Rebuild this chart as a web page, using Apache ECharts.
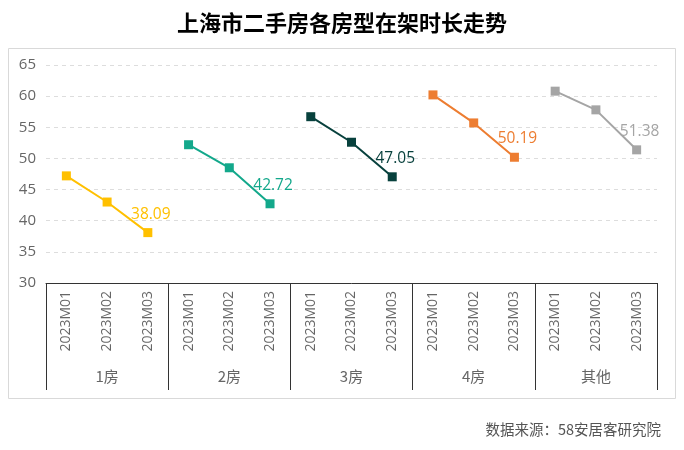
<!DOCTYPE html>
<html><head><meta charset="utf-8">
<script src="https://cdn.jsdelivr.net/npm/echarts@6/dist/echarts.min.js"></script>
<style>html,body{margin:0;padding:0;background:#fff}#c{width:684px;height:450px}</style>
</head><body><div id="c"></div>
<script>
const groups = ['1房','2房','3房','4房','其他'];
const months = ['2023M01','2023M02','2023M03'];
const v1 = [47.2, 43.0, 38.09];
const v2 = [52.2, 48.5, 42.72];
const v3 = [56.7, 52.6, 47.05];
const v4 = [60.2, 55.7, 50.19];
const v5 = [60.8, 57.8, 51.38];
const colors = ['#FFC000','#13A88B','#08413D','#ED7D31','#A5A5A5'];
const yTicks = {min:30, max:65, interval:5};

const cats = [];
groups.forEach(g => months.forEach(m => cats.push(g + '|' + m)));
const allVals = [v1, v2, v3, v4, v5];
const series = allVals.map((vals, gi) => {
  const data = cats.map(() => null);
  vals.forEach((v, i) => { data[gi * 3 + i] = v; });
  return {
    type: 'line', name: groups[gi], data: data,
    symbol: 'rect', symbolSize: 9,
    lineStyle: {color: colors[gi], width: 2},
    itemStyle: {color: colors[gi]},
    label: {
      show: true, position: 'top', distance: 6, offset: [3, 0], color: colors[gi], fontSize: 15.5,
      fontFamily: 'Open Sans',
      formatter: p => (p.dataIndex === gi * 3 + 2 ? p.value.toFixed(2) : '')
    },
    connectNulls: false, silent: true, animation: false
  };
});

const chart = echarts.init(document.getElementById('c'));
chart.setOption({
  animation: false,
  title: [{
    text: '上海市二手房各房型在架时长走势', left: 'center', top: 7,
    textStyle: {fontSize: 22, fontWeight: 'bold', color: '#000', fontFamily: 'Noto Sans CJK SC'}
  }, {
    text: '数据来源：58安居客研究院', right: 18, top: 417,
    textStyle: {fontSize: 14.5, fontWeight: 'normal', color: '#555', fontFamily: 'Noto Sans CJK SC'}
  }],
  graphic: [{
    type: 'rect', shape: {x: 8.5, y: 48.5, width: 667, height: 350},
    style: {fill: 'none', stroke: '#d9d9d9', lineWidth: 1}, silent: true, z: -1
  }],
  grid: {left: 46, right: 27, top: 65, bottom: 167},
  xAxis: [{
    type: 'category', data: cats, position: 'bottom',
    axisLine: {show: true, lineStyle: {color: '#333', width: 1}},
    axisTick: {show: false},
    axisLabel: {
      rotate: 90, margin: 8, color: '#666', fontSize: 14, fontFamily: 'Open Sans',
      formatter: v => v.split('|')[1]
    },
    splitLine: {show: false}
  }, {
    type: 'category', data: groups, position: 'bottom',
    axisLine: {show: false},
    axisTick: {show: true, length: 107, inside: false, lineStyle: {color: '#333', width: 1}},
    axisLabel: {margin: 86, color: '#666', fontSize: 15, fontFamily: 'Noto Sans CJK SC'}
  }],
  yAxis: {
    type: 'value', min: yTicks.min, max: yTicks.max, interval: yTicks.interval,
    axisLine: {show: false}, axisTick: {show: false},
    axisLabel: {color: '#666', fontSize: 15, margin: 10, fontFamily: 'Open Sans'},
    splitLine: {show: true, lineStyle: {color: '#ddd', type: [4, 4], width: 1}}
  },
  series: series
});
</script></body></html>
